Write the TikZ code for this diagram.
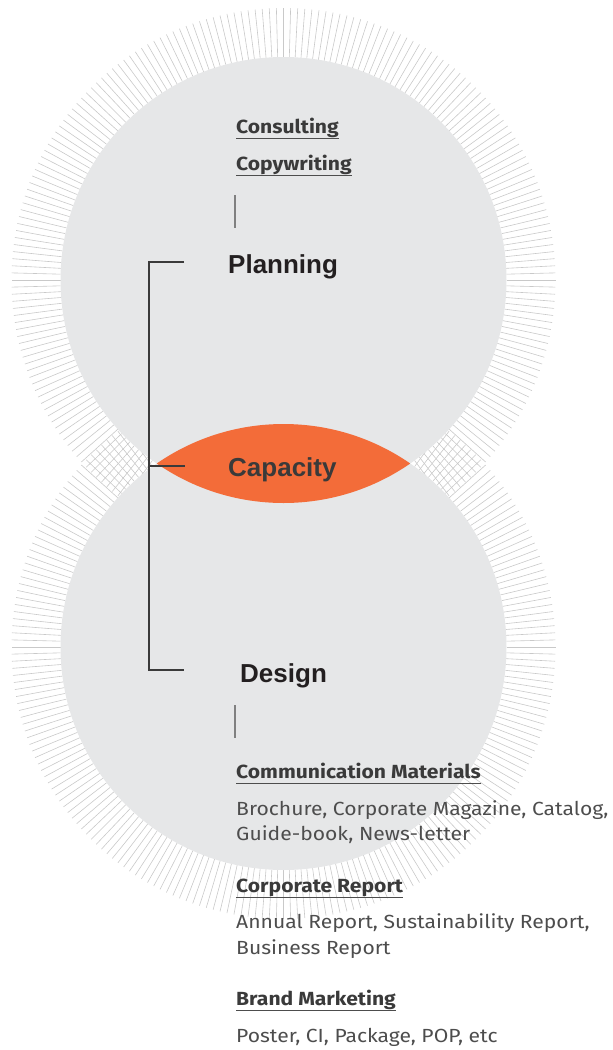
\documentclass[tikz,border=0pt]{standalone}
\usepackage{fontspec}
\setmainfont{Liberation Sans}
\newfontfamily\dinfont[FakeStretch=1.11]{Fira Sans}
\definecolor{discgrey}{HTML}{E6E7E8}
\definecolor{raygrey}{HTML}{C9C9C9}
\definecolor{caporange}{HTML}{F36C39}
\definecolor{inkdark}{HTML}{231F20}
\definecolor{labeldark}{HTML}{3A3A3A}
\definecolor{bodygrey}{HTML}{4D4D4D}
\begin{document}
\begin{tikzpicture}[x=1pt, y=-1pt,
    ray/.style={draw=raygrey, line width=0.6pt},
    disc/.style={fill=discgrey},
    title/.style={text=inkdark, inner sep=0pt, anchor=base west, font=\fontsize{26}{30}\selectfont\bfseries},
    service/.style={text=labeldark, inner sep=0pt, anchor=base west, font=\dinfont\fontsize{19}{22}\selectfont\bfseries},
    detail/.style={text=bodygrey, inner sep=0pt, anchor=base west, font=\dinfont\fontsize{19}{22}\selectfont},
    uline/.style={draw=bodygrey, line width=1pt},
    tick/.style={draw=gray, line width=1.3pt},
    bracket/.style={draw=labeldark, line width=2pt}]
\useasboundingbox (0,0) rectangle (613,1050);

% centres of the two circles
\coordinate (top) at (283.5,280);
\coordinate (bot) at (283.5,647);

% rays round both circles
\foreach \a in {0,1.5,...,358.5} {
  \draw[ray] ([shift={(\a:223pt)}]top) -- ([shift={(\a:272pt)}]top);
  \draw[ray] ([shift={(\a:223pt)}]bot) -- ([shift={(\a:272pt)}]bot);
}
\fill[disc] (top) circle (223pt);
\fill[disc] (bot) circle (223pt);

% overlap of the circles
\begin{scope}
  \clip (top) circle (223pt);
  \fill[caporange] (bot) circle (223pt);
\end{scope}

\node[service] (consult) at (236,133) {Consulting};
\node[service] (copyw) at (236,170) {Copywriting};
\draw[uline] ([yshift=-5pt]consult.base west) -- ([yshift=-5pt]consult.base east);
\draw[uline] ([yshift=-5pt]copyw.base west) -- ([yshift=-5pt]copyw.base east);

\coordinate (ptick1) at (235,195);
\coordinate (ptick2) at (235,228);
\draw[tick] (ptick1) -- (ptick2);

\node[title] (planning) at (228,273) {Planning};
\node[title, text=labeldark] (capacity) at (228,476) {Capacity};
\node[title] (design) at (240,682) {Design};

% bracket
\coordinate (brtop) at (184,262);
\coordinate (brbot) at (184,670);
\coordinate (brmid) at (185,466);
\draw[bracket] (brtop) -- (149,262) -- (149,670) -- (brbot);
\draw[bracket] (149,466) -- (brmid);

\coordinate (dtick1) at (235,705);
\coordinate (dtick2) at (235,738);
\draw[tick] (dtick1) -- (dtick2);

\node[service] (commat) at (236,778) {Communication Materials};
\draw[uline] ([yshift=-5pt]commat.base west) -- ([yshift=-5pt]commat.base east);
\node[detail] (commatlist) at (236,815) {Brochure, Corporate Magazine, Catalog,};
\node[detail] (commatlist2) at (236,840) {Guide-book, News-letter};

\node[service] (corprep) at (236,892) {Corporate Report};
\draw[uline] ([yshift=-5pt]corprep.base west) -- ([yshift=-5pt]corprep.base east);
\node[detail] (corpreplist) at (236,928) {Annual Report, Sustainability Report,};
\node[detail] (corpreplist2) at (236,954) {Business Report};

\node[service] (brand) at (236,1005) {Brand Marketing};
\draw[uline] ([yshift=-5pt]brand.base west) -- ([yshift=-5pt]brand.base east);
\node[detail] (brandlist) at (236,1042) {Poster, CI, Package, POP, etc};
\end{tikzpicture}
\end{document}
